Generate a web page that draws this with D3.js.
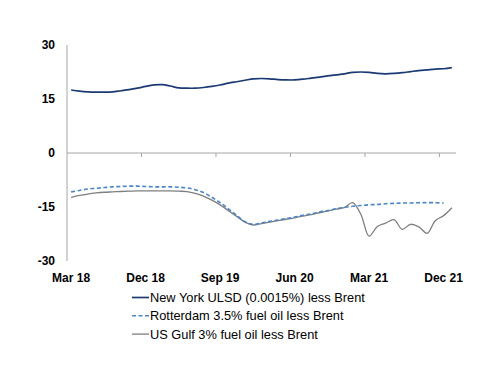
<!DOCTYPE html>
<meta charset="utf-8">
<script src="https://d3js.org/d3.v7.min.js"></script>
<style>
    body { margin: 0; background: #fff; }
    .tick-label { font-family: 'Liberation Sans', Arial, sans-serif; font-size: 12px; font-weight: bold; fill: #000; }
    .legend-label { font-family: 'Liberation Sans', Arial, sans-serif; font-size: 12.8px; fill: #000; }
    .axis-line { stroke: #a6a6a6; stroke-width: 1px; fill: none; }
</style>
<div id="chart"></div>
<script>
    // monthly categories, Mar 2018 .. Jan 2022
    let months = d3.timeMonths(new Date(2018, 2, 1), new Date(2022, 1, 1));
    let xTickLabels = ["Mar 18", "Dec 18", "Sep 19", "Jun 20", "Mar 21", "Dec 21"];
    let yTicks = [30, 15, 0, -15, -30];

    let newYork = [17.5, 17.2, 17.0, 16.9, 16.9, 17.0, 17.3, 17.6, 18.0, 18.5, 18.9, 19.0,
        18.6, 18.1, 18.0, 18.0, 18.2, 18.5, 18.9, 19.4, 19.8, 20.2, 20.6, 20.7,
        20.6, 20.4, 20.3, 20.3, 20.5, 20.8, 21.1, 21.4, 21.7, 22.0, 22.4, 22.5,
        22.4, 22.1, 22.0, 22.1, 22.3, 22.6, 22.9, 23.1, 23.3, 23.4, 23.7];

    let rotterdam = [-10.8, -10.4, -10.0, -9.8, -9.6, -9.4, -9.3, -9.2, -9.2, -9.3, -9.4, -9.4,
        -9.4, -9.5, -9.7, -10.2, -11.0, -12.3, -13.8, -15.5, -17.3, -19.1, -19.8, -19.4,
        -19.0, -18.6, -18.2, -17.8, -17.3, -16.9, -16.4, -16.0, -15.5, -15.1, -14.8, -14.6,
        -14.4, -14.3, -14.1, -14.0, -13.9, -13.9, -13.8, -13.8, -13.8, -13.9];

    let usGulf = [-12.3, -11.8, -11.4, -11.1, -10.9, -10.8, -10.7, -10.6, -10.5, -10.5, -10.5, -10.5,
        -10.5, -10.6, -10.7, -11.2, -12.0, -13.1, -14.4, -16.0, -17.6, -19.2, -20.0, -19.6,
        -19.2, -18.8, -18.4, -18.0, -17.5, -17.1, -16.6, -16.1, -15.6, -15.2, -13.8, -17.0,
        -23.1, -20.4, -19.5, -18.5, -21.2, -19.8, -20.5, -22.3, -18.8, -17.4, -15.2];

    let seriesNames = ["New York ULSD (0.0015%) less Brent",
        "Rotterdam 3.5% fuel oil less Brent",
        "US Gulf 3% fuel oil less Brent"];

    let width = 500, height = 386;
    let fmt = d3.timeFormat("%b %y");

    let svg = d3.select("#chart").append("svg")
        .attr("width", width)
        .attr("height", height);

    let x = d3.scaleBand()
        .domain(months.map(fmt))
        .range([67, 456])
        .paddingInner(0)
        .paddingOuter(0);

    let y = d3.scaleLinear()
        .domain([-30, 30])
        .range([261, 45]);

    let cx = function (i) { return x(fmt(months[i])) + x.bandwidth() / 2; };

    // y axis line and labels
    svg.append("line")
        .attr("class", "axis-line")
        .attr("x1", 67).attr("x2", 67)
        .attr("y1", y(30)).attr("y2", y(-30));

    svg.selectAll(".ylab")
        .data(yTicks)
        .enter()
        .append("text")
        .attr("class", "tick-label")
        .attr("x", 55)
        .attr("y", function (d) { return y(d) + 4; })
        .attr("text-anchor", "end")
        .text(function (d) { return d; });

    // x axis along zero, tick marks every 9 months
    svg.append("line")
        .attr("class", "axis-line")
        .attr("x1", 67).attr("x2", 456)
        .attr("y1", y(0)).attr("y2", y(0));

    let tickIdx = d3.range(0, months.length, 9);
    svg.selectAll(".xtick")
        .data(tickIdx.filter(function (i) { return i > 0; }))
        .enter()
        .append("line")
        .attr("class", "axis-line")
        .attr("x1", function (i) { return x(fmt(months[i])); })
        .attr("x2", function (i) { return x(fmt(months[i])); })
        .attr("y1", y(0))
        .attr("y2", y(0) + 4);

    svg.selectAll(".xlab")
        .data(xTickLabels)
        .enter()
        .append("text")
        .attr("class", "tick-label")
        .attr("x", function (d) { return x(d) + x.bandwidth() / 2; })
        .attr("y", 282)
        .attr("text-anchor", "middle")
        .text(function (d) { return d; });

    let line = d3.line()
        .x(function (d, i) { return cx(i); })
        .y(function (d) { return y(d); })
        .curve(d3.curveCatmullRom.alpha(0.5));

    let styles = [
        {color: "#1b3a73", width: 1.7, dash: null},
        {color: "#4a86c8", width: 1.6, dash: "4,2.5"},
        {color: "#7f7f7f", width: 1.3, dash: null}
    ];

    [usGulf, rotterdam, newYork].forEach(function (s, k) {
        let st = styles[2 - k];
        svg.append("path")
            .datum(s)
            .attr("d", line)
            .attr("fill", "none")
            .attr("stroke", st.color)
            .attr("stroke-width", st.width)
            .attr("stroke-dasharray", st.dash);
    });

    // legend
    let legend = svg.selectAll(".legend")
        .data(seriesNames)
        .enter()
        .append("g")
        .attr("transform", function (d, i) {
            return "translate(0," + (297.5 + i * 18.3) + ")";
        });

    legend.append("line")
        .attr("x1", 132).attr("x2", 149)
        .attr("y1", 0).attr("y2", 0)
        .attr("stroke", function (d, i) { return styles[i].color; })
        .attr("stroke-width", function (d, i) { return styles[i].width; })
        .attr("stroke-dasharray", function (d, i) { return styles[i].dash; });

    legend.append("text")
        .attr("class", "legend-label")
        .attr("x", 150)
        .attr("y", 4.5)
        .text(function (d) { return d; });
</script>
